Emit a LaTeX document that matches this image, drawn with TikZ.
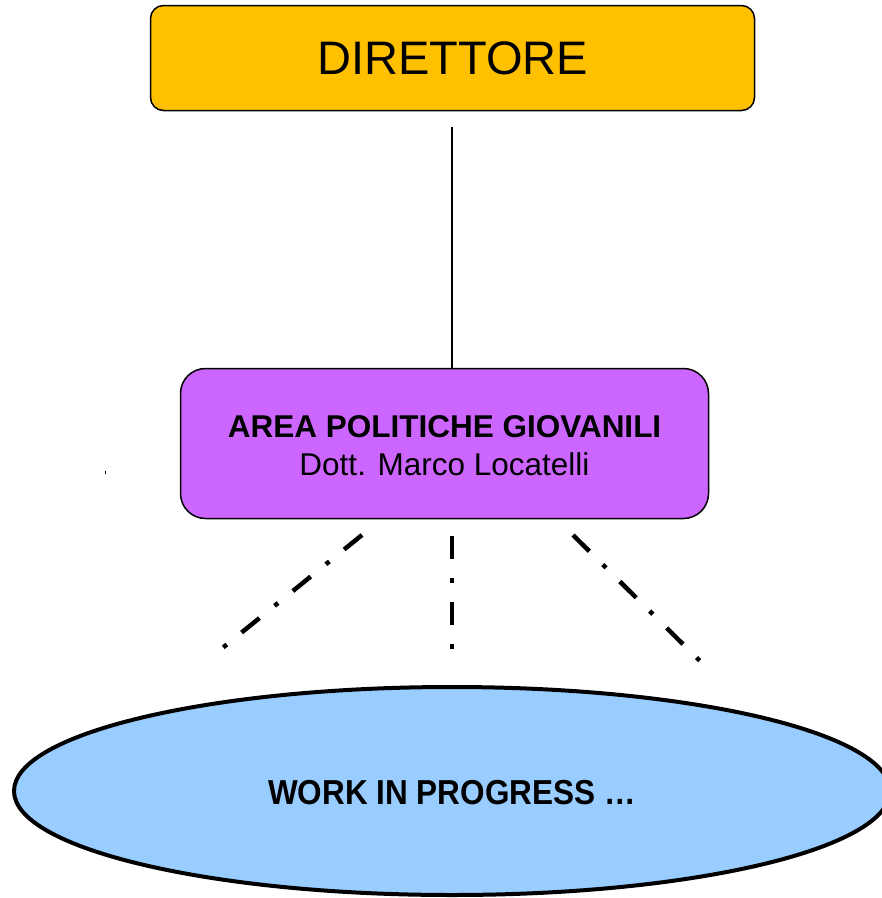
\documentclass[tikz,border=0pt]{standalone}
\usepackage{fontspec}
\setmainfont{Liberation Sans}
\usetikzlibrary{shapes.geometric}
\definecolor{diryellow}{HTML}{FFC000}
\definecolor{areapurple}{HTML}{CC66FF}
\definecolor{wipblue}{HTML}{99CCFF}
\tikzset{
  box/.style={draw=black, line width=1.5pt, rectangle, inner sep=0pt, align=center},
  link/.style={draw=black, line width=1.5pt},
  dashdot/.style={draw=black, line width=4.5pt, line cap=butt, dash pattern=on 23pt off 19pt on 4.5pt off 19.5pt},
}
\begin{document}
\begin{tikzpicture}[x=1pt, y=-1pt]
\useasboundingbox (0,0) rectangle (882,898);
\clip (0,0) rectangle (882,898);
\node[box, fill=diryellow, rounded corners=13pt, minimum width=604pt, minimum height=105pt,
      font=\fontsize{47}{56}\selectfont] (dir) at (452.5,58) {DIRETTORE};
\node[box, fill=areapurple, rounded corners=25pt, minimum width=528pt, minimum height=150pt,
      font=\fontsize{31.5}{38}\selectfont] (area) at (444.5,443.5) {};
\node[align=center, inner sep=0pt, font=\fontsize{31.5}{38}\selectfont] (areatext) at (444.5,445.5)
      {\textbf{AREA POLITICHE GIOVANILI}\\Dott. Marco Locatelli};
\node[ellipse, draw=black, line width=4pt, fill=wipblue, minimum width=876pt, minimum height=208pt,
      inner sep=0pt] (wip) at (452,791) {};
\node[inner sep=0pt, font=\fontsize{31.5}{38}\selectfont\bfseries] (wiptext) at (452,792.5)
      {\scalebox{1}[1.1]{WORK IN PROGRESS …}};
\coordinate (c1) at (452,127);
\draw[link] (c1) -- (c1 |- area.north);
\coordinate (l0) at (362,535);
\coordinate (l1) at (220,650);
\coordinate (m0) at (452,536);
\coordinate (m1) at (452,652);
\coordinate (r0) at (573,535);
\coordinate (r1) at (704,665);
\draw[dashdot] (l0) -- (l1);
\draw[dashdot] (m0) -- (m1);
\draw[dashdot] (r0) -- (r1);
\coordinate (spec) at (105,472);
\fill[black] ([xshift=-0.5pt,yshift=-1.5pt]spec) rectangle ([xshift=0.5pt,yshift=1.5pt]spec);
\end{tikzpicture}
\end{document}
